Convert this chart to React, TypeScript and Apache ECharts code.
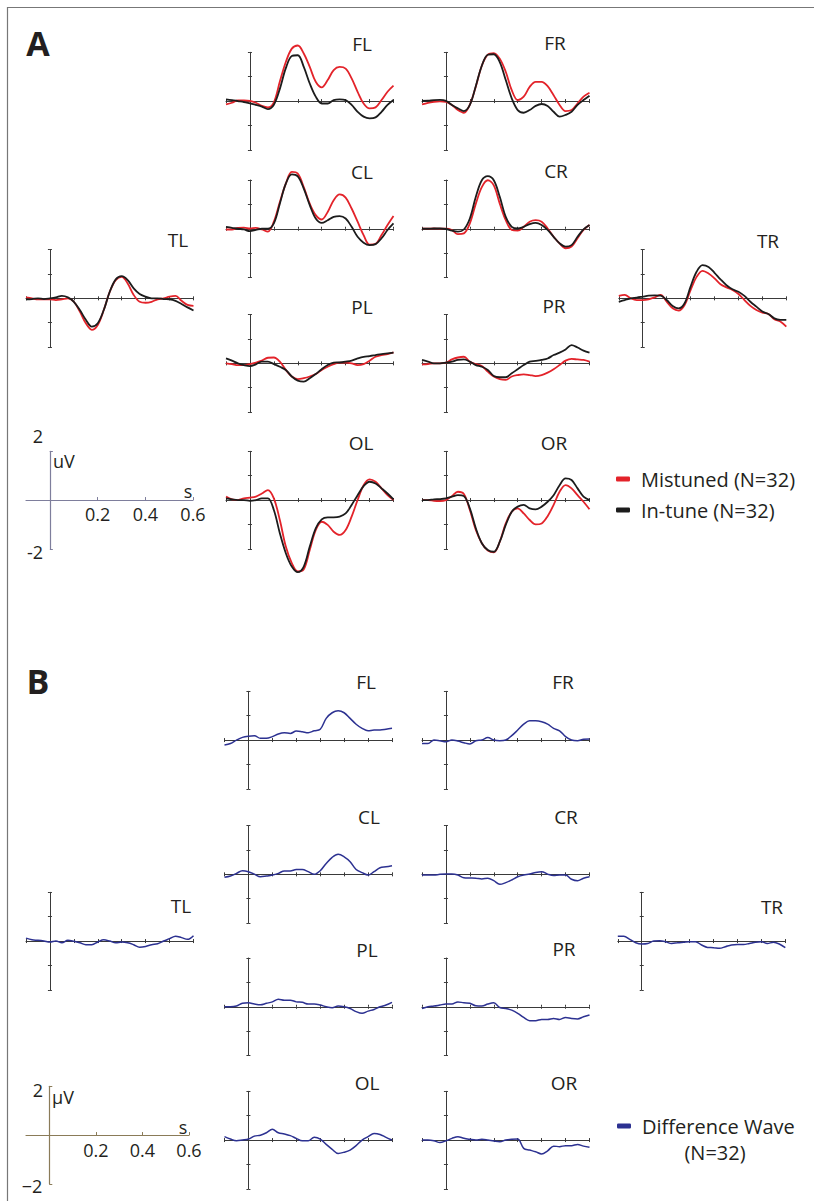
import { useEffect, useRef } from 'react';
import * as echarts from 'echarts';

// ---------- DATA ----------
const times = [
  -0.1, -0.075, -0.05, -0.025, 0, 0.025, 0.05, 0.075, 0.1, 0.125, 0.15, 0.175, 0.2, 0.225, 0.25,
  0.275, 0.3, 0.325, 0.35, 0.375, 0.4, 0.425, 0.45, 0.475, 0.5, 0.525, 0.55, 0.575, 0.6,
];

// Panel A: mistuned (red) and in-tune (black) ERPs, µV
const mistunedFL = [-0.14, -0.07, 0.03, 0.03, 0.01, -0.07, -0.2, -0.26, -0.05, 0.8, 1.6, 2.15, 2.28, 1.95, 1.4, 0.79, 0.56, 0.86, 1.27, 1.4, 1.33, 0.93, 0.38, -0.1, -0.3, -0.26, 0.04, 0.38, 0.63];
const intuneFL = [0.07, 0.04, 0, -0.04, -0.1, -0.16, -0.23, -0.33, -0.15, 0.5, 1.35, 1.85, 1.88, 1.4, 0.72, 0.18, -0.1, -0.1, 0.04, 0.07, 0.04, -0.16, -0.44, -0.64, -0.71, -0.67, -0.44, -0.16, 0.04];
const mistunedFR = [-0.14, -0.07, -0.03, -0.01, -0.03, -0.16, -0.37, -0.48, -0.15, 0.6, 1.45, 1.9, 1.97, 1.74, 1.2, 0.45, 0.04, 0.18, 0.58, 0.79, 0.79, 0.61, 0.24, -0.16, -0.41, -0.37, -0.1, 0.18, 0.34];
const intuneFR = [0.01, 0.02, 0.04, 0.05, 0.01, -0.16, -0.3, -0.41, -0.16, 0.62, 1.45, 1.9, 1.92, 1.6, 0.86, 0.11, -0.37, -0.48, -0.37, -0.2, -0.12, -0.2, -0.44, -0.64, -0.57, -0.44, -0.16, 0.04, 0.22];
const mistunedCL = [-0.03, -0.03, 0.04, 0.05, 0.01, 0.04, -0.03, -0.12, 0.29, 1.1, 1.85, 2.33, 2.26, 1.71, 1.03, 0.56, 0.38, 0.69, 1.17, 1.41, 1.28, 0.83, 0.29, -0.26, -0.65, -0.62, -0.26, 0.15, 0.52];
const intuneCL = [0.08, 0.04, 0, -0.03, -0.1, -0.05, 0, 0, 0.22, 1.03, 1.85, 2.23, 2.15, 1.65, 0.97, 0.42, 0.24, 0.35, 0.49, 0.52, 0.42, 0.08, -0.33, -0.57, -0.67, -0.63, -0.39, -0.05, 0.22];
const mistunedCR = [0, 0, 0.01, 0, 0, -0.05, -0.22, -0.19, 0.22, 1.03, 1.71, 1.99, 1.78, 1.03, 0.35, -0.05, -0.08, 0.08, 0.29, 0.35, 0.29, 0.01, -0.33, -0.6, -0.8, -0.73, -0.39, -0.05, 0.15];
const intuneCR = [0, 0, 0.01, 0.01, -0.01, -0.08, -0.12, -0.03, 0.42, 1.31, 1.99, 2.16, 1.99, 1.31, 0.49, 0.08, 0.01, 0.08, 0.19, 0.24, 0.15, -0.05, -0.33, -0.6, -0.73, -0.67, -0.33, -0.03, 0.15];
const mistunedTL = [0.04, 0, -0.04, -0.04, -0.04, -0.07, -0.04, 0, -0.14, -0.54, -1.02, -1.29, -1.09, -0.48, 0.27, 0.75, 0.88, 0.61, 0.14, -0.14, -0.18, -0.14, -0.04, 0, 0.07, 0.1, -0.1, -0.27, -0.31];
const intuneTL = [-0.04, -0.03, 0, -0.03, 0, 0.04, 0.1, 0.04, -0.14, -0.48, -0.88, -1.16, -1.02, -0.48, 0.27, 0.78, 0.91, 0.75, 0.41, 0.18, 0.07, 0, 0, -0.03, -0.04, -0.1, -0.23, -0.37, -0.5];
const mistunedTR = [0.1, 0.14, 0, -0.07, -0.07, -0.04, 0.04, 0.14, -0.14, -0.41, -0.5, -0.27, 0.34, 0.88, 1.13, 1.02, 0.82, 0.58, 0.45, 0.34, 0.18, -0.07, -0.31, -0.48, -0.59, -0.64, -0.86, -0.95, -1.16];
const intuneTR = [-0.14, -0.07, 0, 0.03, 0.07, 0.11, 0.12, 0.11, -0.07, -0.31, -0.41, -0.2, 0.48, 1.09, 1.36, 1.29, 1.05, 0.78, 0.54, 0.37, 0.27, 0.1, -0.14, -0.34, -0.54, -0.64, -0.82, -0.88, -0.88];
const mistunedPL = [0, -0.03, -0.07, -0.07, -0.03, 0.03, 0.11, 0.23, 0.24, 0.07, -0.27, -0.54, -0.65, -0.61, -0.54, -0.44, -0.27, -0.14, -0.03, 0.03, 0.03, 0, -0.07, -0.03, 0.11, 0.27, 0.34, 0.38, 0.45];
const intunePL = [0.2, 0.11, 0, -0.07, -0.11, -0.04, 0.07, 0.07, -0.03, -0.14, -0.27, -0.54, -0.71, -0.75, -0.61, -0.44, -0.24, -0.07, 0.03, 0.04, 0.07, 0.11, 0.2, 0.27, 0.3, 0.34, 0.38, 0.41, 0.44];
const mistunedPR = [-0.04, -0.03, 0, 0, 0.03, 0.16, 0.24, 0.27, 0.07, -0.03, -0.11, -0.34, -0.54, -0.65, -0.68, -0.54, -0.48, -0.45, -0.48, -0.52, -0.48, -0.38, -0.24, -0.07, 0.11, 0.18, 0.16, 0.14, 0.07];
const intunePR = [0.14, 0.07, 0, 0, 0.03, 0.07, 0.14, 0.16, 0.07, -0.07, -0.14, -0.27, -0.52, -0.57, -0.57, -0.41, -0.24, -0.07, 0.07, 0.1, 0.14, 0.2, 0.34, 0.44, 0.57, 0.75, 0.65, 0.52, 0.44];
const mistunedOL = [0.14, 0.03, 0, 0.07, 0.1, 0.14, 0.27, 0.41, 0.07, -0.82, -1.91, -2.59, -2.93, -2.84, -2.05, -1.23, -0.89, -1.02, -1.3, -1.43, -1.23, -0.68, 0, 0.61, 0.85, 0.75, 0.48, 0.2, 0];
const intuneOL = [0.07, 0.03, 0, 0, -0.03, 0, 0.07, 0.07, -0.41, -1.36, -2.18, -2.73, -2.96, -2.73, -1.91, -1.16, -0.79, -0.71, -0.71, -0.68, -0.55, -0.2, 0.2, 0.57, 0.75, 0.68, 0.48, 0.27, 0.03];
const mistunedOR = [0, 0, -0.03, -0.04, 0, 0.16, 0.34, 0.25, -0.41, -1.23, -1.77, -2.07, -2.15, -1.71, -0.96, -0.48, -0.34, -0.55, -0.82, -1.0, -0.96, -0.66, -0.2, 0.34, 0.61, 0.48, 0.2, -0.07, -0.38];
const intuneOR = [0, 0, 0.03, 0.04, 0.07, 0.14, 0.2, 0.16, -0.34, -1.16, -1.77, -2.05, -2.12, -1.71, -1.02, -0.48, -0.27, -0.2, -0.34, -0.38, -0.27, -0.07, 0.2, 0.61, 0.89, 0.82, 0.48, 0.14, 0];

// Panel B: difference waves, µV
const diffFL = [-0.2, -0.14, 0, 0.11, 0.16, 0.18, 0.07, 0.07, 0.14, 0.25, 0.3, 0.27, 0.37, 0.34, 0.3, 0.38, 0.44, 0.89, 1.12, 1.2, 1.12, 0.89, 0.65, 0.48, 0.38, 0.41, 0.41, 0.44, 0.48];
const diffFR = [-0.14, -0.14, 0, -0.03, -0.07, 0, -0.04, -0.11, -0.16, -0.03, 0, 0.1, 0, -0.03, 0, 0.18, 0.41, 0.65, 0.79, 0.79, 0.75, 0.65, 0.48, 0.38, 0.14, 0, -0.03, 0.03, 0.04];
const diffCL = [-0.12, -0.07, 0.04, 0.15, 0.11, 0.01, -0.1, -0.07, -0.03, 0.04, 0.14, 0.14, 0.2, 0.2, 0.11, 0, 0.15, 0.45, 0.7, 0.82, 0.72, 0.52, 0.2, 0.07, -0.03, 0.11, 0.27, 0.31, 0.35];
const diffCR = [-0.03, -0.03, -0.03, 0, 0.01, 0.01, -0.03, -0.14, -0.15, -0.16, -0.19, -0.16, -0.26, -0.41, -0.34, -0.23, -0.1, -0.03, 0.01, 0.08, 0.11, 0.01, -0.05, -0.03, -0.03, -0.2, -0.26, -0.16, -0.1];
const diffTL = [0.12, 0.05, 0.03, 0, -0.04, 0, -0.07, 0.03, -0.01, -0.07, -0.15, -0.15, -0.04, 0.05, 0, -0.07, -0.04, -0.07, -0.15, -0.25, -0.22, -0.15, -0.11, 0, 0.1, 0.2, 0.14, 0.07, 0.22];
const diffTR = [0.2, 0.2, 0.07, -0.07, -0.12, -0.1, 0, 0.01, -0.03, -0.1, -0.07, -0.05, -0.03, -0.03, -0.16, -0.26, -0.27, -0.3, -0.23, -0.16, -0.14, -0.14, -0.1, -0.05, -0.03, -0.1, -0.05, -0.12, -0.27];
const diffPL = [0, 0, 0.03, 0.14, 0.16, 0.11, 0.08, 0.14, 0.2, 0.31, 0.27, 0.27, 0.2, 0.18, 0.11, 0.11, 0.07, 0, -0.04, 0.03, 0, -0.07, -0.2, -0.27, -0.18, -0.11, 0, 0.07, 0.18];
const diffPR = [-0.07, 0, 0.03, 0.07, 0.11, 0.11, 0.2, 0.16, 0.14, 0.04, 0.03, 0.11, 0.16, -0.03, -0.07, -0.14, -0.27, -0.44, -0.57, -0.57, -0.52, -0.52, -0.48, -0.52, -0.44, -0.48, -0.5, -0.41, -0.34];
const diffOL = [0.14, 0.04, -0.03, 0, 0.04, 0.16, 0.2, 0.3, 0.44, 0.3, 0.25, 0.18, 0.07, -0.03, -0.03, 0.11, 0.04, -0.18, -0.38, -0.55, -0.5, -0.41, -0.23, 0, 0.14, 0.27, 0.23, 0.11, 0];
const diffOR = [0, 0, -0.03, -0.1, -0.03, 0.07, 0.14, 0.07, 0.03, 0, 0.03, 0, -0.04, -0.07, 0, 0.03, 0.04, -0.34, -0.41, -0.48, -0.57, -0.44, -0.25, -0.27, -0.23, -0.23, -0.18, -0.25, -0.3];

const scaleTicks = [0.2, 0.4, 0.6];
const scaleYTicks = [-2, 2];

const NAME_MIS = 'Mistuned (N=32)';
const NAME_IN = 'In-tune (N=32)';
const NAME_DIFF = 'Difference Wave';

// ---------- LAYOUT / STYLE ----------
const RED = '#e3232a';
const BLACK = '#1c1c1c';
const BLUE = '#2c3191';
const AXIS = '#3a3a3a';
const TEXT = '#231f20';
const SCALE_A = '#7e7e9c';
const SCALE_B = '#8a7b58';
const FONT = "'Open Sans', 'Noto Sans', sans-serif";
const PW = 167.5;
const PH = 97.5;

const panelsA = [
  { title: 'FL', left: 226, top: 52.3, tx: 362, ty: 44, mis: mistunedFL, inn: intuneFL },
  { title: 'FR', left: 422, top: 52.3, tx: 555, ty: 43, mis: mistunedFR, inn: intuneFR },
  { title: 'CL', left: 226, top: 180, tx: 362, ty: 172, mis: mistunedCL, inn: intuneCL },
  { title: 'CR', left: 422, top: 180, tx: 556, ty: 171, mis: mistunedCR, inn: intuneCR },
  { title: 'TL', left: 26, top: 249.6, tx: 178, ty: 240, mis: mistunedTL, inn: intuneTL },
  { title: 'TR', left: 618.8, top: 249.6, tx: 768, ty: 241, mis: mistunedTR, inn: intuneTR },
  { title: 'PL', left: 226, top: 314.6, tx: 362, ty: 307, mis: mistunedPL, inn: intunePL },
  { title: 'PR', left: 422, top: 314.6, tx: 554, ty: 306, mis: mistunedPR, inn: intunePR },
  { title: 'OL', left: 226, top: 451.3, tx: 361, ty: 443, mis: mistunedOL, inn: intuneOL },
  { title: 'OR', left: 422, top: 451.3, tx: 554, ty: 443, mis: mistunedOR, inn: intuneOR },
];

const panelsB = [
  { title: 'FL', left: 224.5, top: 691.3, tx: 366, ty: 682, diff: diffFL },
  { title: 'FR', left: 422, top: 691.3, tx: 563, ty: 682, diff: diffFR },
  { title: 'CL', left: 224.5, top: 825.6, tx: 369, ty: 817, diff: diffCL },
  { title: 'CR', left: 422, top: 825.6, tx: 566, ty: 817, diff: diffCR },
  { title: 'TL', left: 26, top: 892.3, tx: 181, ty: 906, diff: diffTL },
  { title: 'TR', left: 617.8, top: 892.3, tx: 772, ty: 907, diff: diffTR },
  { title: 'PL', left: 224.5, top: 958, tx: 367, ty: 950, diff: diffPL },
  { title: 'PR', left: 422, top: 958, tx: 564, ty: 949, diff: diffPR },
  { title: 'OL', left: 224.5, top: 1091.3, tx: 367, ty: 1083, diff: diffOL },
  { title: 'OR', left: 422, top: 1091.3, tx: 564, ty: 1083, diff: diffOR },
];

function text(x: number, y: number, s: string, size: number, align = 'center', weight = 'normal') {
  return {
    type: 'text',
    x,
    y,
    silent: true,
    style: {
      text: s,
      fontSize: size,
      fontFamily: FONT,
      fontWeight: weight,
      fill: TEXT,
      align,
      verticalAlign: 'middle',
    },
  };
}

function buildOption() {
  const grid: any[] = [];
  const xAxis: any[] = [];
  const yAxis: any[] = [];
  const series: any[] = [];
  const graphic: any[] = [];

  const addMainGrid = (left: number, top: number) => {
    const gi = grid.length;
    grid.push({ left, top, width: PW, height: PH });
    const baseX = {
      gridIndex: gi,
      type: 'value',
      min: -0.1,
      max: 0.6,
      interval: 0.1,
      axisLabel: { show: false },
      splitLine: { show: false },
    };
    const baseY = {
      gridIndex: gi,
      type: 'value',
      min: -2,
      max: 2,
      interval: 1,
      axisLabel: { show: false },
      splitLine: { show: false },
    };
    xAxis.push({
      ...baseX,
      position: 'bottom',
      axisLine: { show: true, onZero: true, lineStyle: { color: AXIS, width: 1 } },
      axisTick: { show: true, length: 2, lineStyle: { color: AXIS, width: 1 } },
    });
    xAxis.push({
      ...baseX,
      position: 'top',
      axisLine: { show: false, onZero: true },
      axisTick: { show: true, length: 2, lineStyle: { color: AXIS, width: 1 } },
    });
    yAxis.push({
      ...baseY,
      position: 'left',
      axisLine: { show: true, onZero: true, lineStyle: { color: AXIS, width: 1 } },
      axisTick: { show: true, length: 2, lineStyle: { color: AXIS, width: 1 } },
    });
    yAxis.push({
      ...baseY,
      position: 'right',
      axisLine: { show: false, onZero: true },
      axisTick: { show: true, length: 2, lineStyle: { color: AXIS, width: 1 } },
    });
    return { xi: xAxis.length - 2, yi: yAxis.length - 2 };
  };

  const addLine = (name: string, color: string, values: number[], xi: number, yi: number, width: number) => {
    series.push({
      type: 'line',
      name,
      xAxisIndex: xi,
      yAxisIndex: yi,
      data: times.map((t, i) => [t, values[i]]),
      smooth: 0.35,
      showSymbol: false,
      symbol: 'none',
      clip: false,
      silent: true,
      lineStyle: { color, width },
      itemStyle: { color },
    });
  };

  panelsA.forEach((p) => {
    const { xi, yi } = addMainGrid(p.left, p.top);
    addLine(NAME_MIS, RED, p.mis, xi, yi, 1.8);
    addLine(NAME_IN, BLACK, p.inn, xi, yi, 1.8);
    graphic.push(text(p.tx, p.ty, p.title, 19));
  });

  panelsB.forEach((p) => {
    const { xi, yi } = addMainGrid(p.left, p.top);
    addLine(NAME_DIFF, BLUE, p.diff, xi, yi, 1.5);
    graphic.push(text(p.tx, p.ty, p.title, 19));
  });

  // Scale bar: a full-height grid carries the µV axis (on x = 0), an upper-half grid
  // carries the time axis along its bottom edge (= the 0 µV line) with its labels.
  const addScale = (left: number, top: number, width: number, color: string, labelMargin: number) => {
    let gi = grid.length;
    grid.push({ left, top, width, height: PH });
    xAxis.push({
      gridIndex: gi,
      type: 'value',
      min: -0.1,
      max: 0.6,
      interval: 0.1,
      show: false,
    });
    yAxis.push({
      gridIndex: gi,
      type: 'value',
      min: -2,
      max: 2,
      interval: 1,
      position: 'right',
      splitLine: { show: false },
      axisLine: { show: true, onZero: true, lineStyle: { color, width: 1.2 } },
      axisTick: { show: true, length: 3, customValues: scaleYTicks, lineStyle: { color, width: 1 } },
      axisLabel: { show: false },
    });
    gi = grid.length;
    grid.push({ left, top, width, height: PH / 2 });
    xAxis.push({
      gridIndex: gi,
      type: 'value',
      min: -0.1,
      max: 0.6,
      interval: 0.1,
      position: 'bottom',
      splitLine: { show: false },
      axisLine: { show: true, onZero: false, lineStyle: { color, width: 1.2 } },
      axisTick: { show: true, inside: true, length: 3, customValues: scaleTicks, lineStyle: { color, width: 1 } },
      axisLabel: {
        show: true,
        customValues: scaleTicks,
        margin: labelMargin,
        fontSize: 18,
        fontFamily: FONT,
        color: TEXT,
        formatter: (v: number) => v.toFixed(1),
      },
    });
    yAxis.push({
      gridIndex: gi,
      type: 'value',
      min: 0,
      max: 2,
      interval: 1,
      show: false,
    });
  };

  addScale(26, 451.3, 167, SCALE_A, 5);
  addScale(26, 1086.3, 163, SCALE_B, 6);

  graphic.push(text(38, 436, '2', 18));
  graphic.push(text(35, 552, '-2', 18));
  graphic.push(text(53, 461, 'uV', 18, 'left'));
  graphic.push(text(188, 491, 's', 18));
  graphic.push(text(38, 1090, '2', 18));
  graphic.push(text(32, 1186, '\u22122', 18));
  graphic.push(text(52, 1097, '\u00b5V', 18, 'left'));
  graphic.push(text(183, 1127, 's', 18));

  graphic.push(text(38, 43, 'A', 34, 'center', 'bold'));
  graphic.push(text(38, 681, 'B', 34, 'center', 'bold'));
  graphic.push(text(715, 1152, '(N=32)', 20));

  graphic.push({
    type: 'line',
    silent: true,
    shape: { x1: 7, y1: 7.5, x2: 814, y2: 7.5 },
    style: { stroke: '#777777', lineWidth: 1.2 },
  });
  graphic.push({
    type: 'line',
    silent: true,
    shape: { x1: 7.5, y1: 7, x2: 7.5, y2: 1201 },
    style: { stroke: '#777777', lineWidth: 1.2 },
  });

  const legendText = {
    fontSize: 20,
    fontFamily: FONT,
    color: TEXT,
    lineHeight: 24,
    padding: [0, 0, 0, 6],
  };

  return {
    animation: false,
    backgroundColor: '#ffffff',
    grid,
    xAxis,
    yAxis,
    series,
    graphic,
    legend: [
      {
        data: [NAME_MIS, NAME_IN],
        orient: 'vertical',
        left: 616,
        top: 467,
        padding: 0,
        icon: 'roundRect',
        itemWidth: 14,
        itemHeight: 5,
        itemGap: 7,
        selectedMode: false,
        textStyle: legendText,
      },
      {
        data: [NAME_DIFF],
        orient: 'vertical',
        left: 617,
        top: 1114,
        padding: 0,
        icon: 'roundRect',
        itemWidth: 14,
        itemHeight: 5,
        selectedMode: false,
        textStyle: legendText,
      },
    ],
  };
}

export default function App() {
  const ref = useRef<HTMLDivElement>(null);
  useEffect(() => {
    if (!ref.current) return;
    const chart = echarts.init(ref.current, null, { renderer: 'svg' });
    chart.setOption(buildOption() as any);
    return () => chart.dispose();
  }, []);
  return (
    <div
      ref={ref}
      style={{ position: 'absolute', left: 0, top: 0, width: 814, height: 1201, background: '#fff' }}
    />
  );
}
